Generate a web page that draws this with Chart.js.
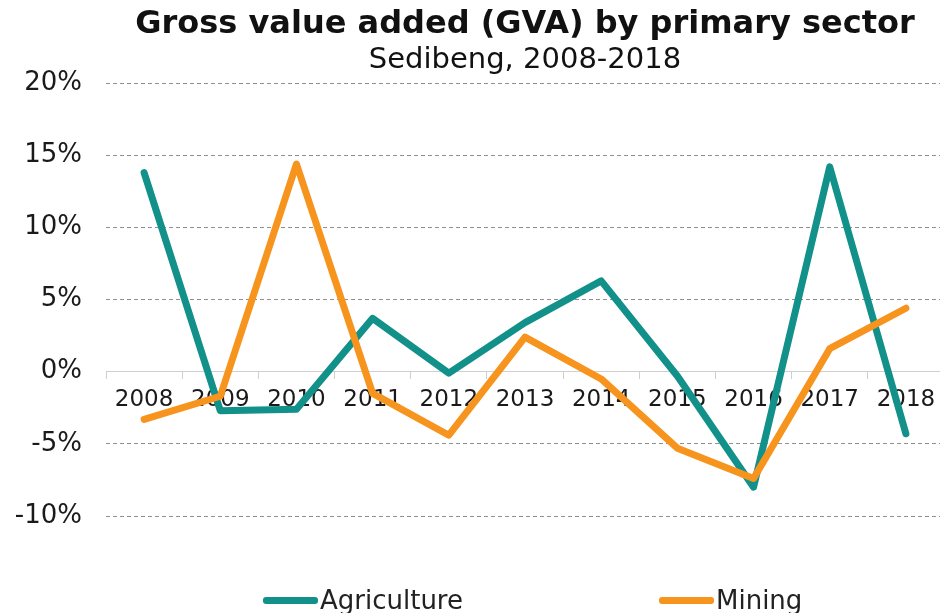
<!DOCTYPE html>
<html>
<head>
<meta charset="utf-8">
<title>Gross value added (GVA) by primary sector</title>
<script src="https://cdn.jsdelivr.net/npm/chart.js@4.4.0/dist/chart.umd.min.js"></script>
<style>
  html, body { margin: 0; padding: 0; background: #fff; overflow: hidden; }
  #wrap { position: relative; width: 946px; height: 613px; }
  #legend {
    position: absolute; left: 263px; top: 585px;
    display: flex; gap: 196px;
    font: 26px "DejaVu Sans", Verdana, sans-serif; color: #222;
  }
  #legend .item { display: flex; align-items: center; }
  #legend .swatch { width: 55px; height: 7px; border-radius: 3px; margin-right: 2px; }
</style>
</head>
<body>
<div id="wrap">
  <canvas id="gvaChart"></canvas>
  <div id="legend"></div>
</div>
<script>
const years = ['2008', '2009', '2010', '2011', '2012', '2013', '2014', '2015', '2016', '2017', '2018'];
const agriculture = [13.8, -2.7, -2.6, 3.7, -0.1, 3.4, 6.3, -0.3, -8.0, 14.2, -4.3];
const mining = [-3.3, -1.7, 14.4, -1.5, -4.4, 2.4, -0.5, -5.3, -7.4, 1.6, 4.4];
const yTicks = [-10, -5, 0, 5, 10, 15, 20];

const FONT = '"DejaVu Sans", Verdana, sans-serif';
const TEAL = '#12908a';
const ORANGE = '#f7941d';

const datasets = [
  { label: 'Agriculture', data: agriculture, borderColor: TEAL, backgroundColor: TEAL, order: 1 },
  { label: 'Mining', data: mining, borderColor: ORANGE, backgroundColor: ORANGE, order: 0 }
].map(d => Object.assign(d, {
  borderWidth: 7,
  tension: 0,
  pointRadius: 0,
  pointHoverRadius: 0,
  borderJoinStyle: 'round',
  borderCapStyle: 'round',
  fill: false
}));

const ctx = document.getElementById('gvaChart').getContext('2d');
const chart = new Chart(ctx, {
  type: 'line',
  data: { labels: years, datasets },
  options: {
    responsive: true,
    maintainAspectRatio: false,
    animation: false,
    layout: { padding: { top: 0, left: 0, right: 2, bottom: 97 } },
    plugins: {
      legend: { display: false },
      tooltip: { enabled: false },
      title: {
        display: true,
        fullSize: false,
        text: 'Gross value added (GVA) by primary sector',
        color: '#111',
        font: { family: FONT, size: 32, weight: 'bold' },
        padding: { top: 5, bottom: 0 }
      },
      subtitle: {
        display: true,
        fullSize: false,
        text: 'Sedibeng, 2008-2018',
        color: '#111',
        font: { family: FONT, size: 29 },
        padding: { top: 0, bottom: 5 }
      }
    },
    scales: {
      x: {
        position: { y: 0 },
        offset: true,
        grid: { offset: true, drawOnChartArea: false, drawTicks: true, tickLength: 7, color: '#cfcfcf' },
        border: { display: true, color: '#cfcfcf', width: 1 },
        ticks: { padding: 7, color: '#1a1a1a', font: { family: FONT, size: 23 }, maxRotation: 0 }
      },
      y: {
        min: -10,
        max: 20,
        afterBuildTicks: s => { s.ticks = yTicks.map(v => ({ value: v })); },
        afterFit: s => { s.width = 106; },
        grid: {
          drawTicks: false,
          lineWidth: 1,
          color: c => (c.tick && c.tick.value === 0) ? 'rgba(0,0,0,0)' : '#8f8f8f'
        },
        border: { display: false, dash: [4, 3] },
        ticks: {
          padding: 24,
          color: '#1a1a1a',
          font: { family: FONT, size: 26 },
          callback: v => v + '%'
        }
      }
    }
  }
});

// legend built from the datasets, kept outside the canvas for wide spacing
const legendEl = document.getElementById('legend');
chart.data.datasets.forEach(ds => {
  const item = document.createElement('div');
  item.className = 'item';
  item.innerHTML = `<span class="swatch" style="background:${ds.borderColor}"></span><span>${ds.label}</span>`;
  legendEl.appendChild(item);
});
</script>
</body>
</html>
